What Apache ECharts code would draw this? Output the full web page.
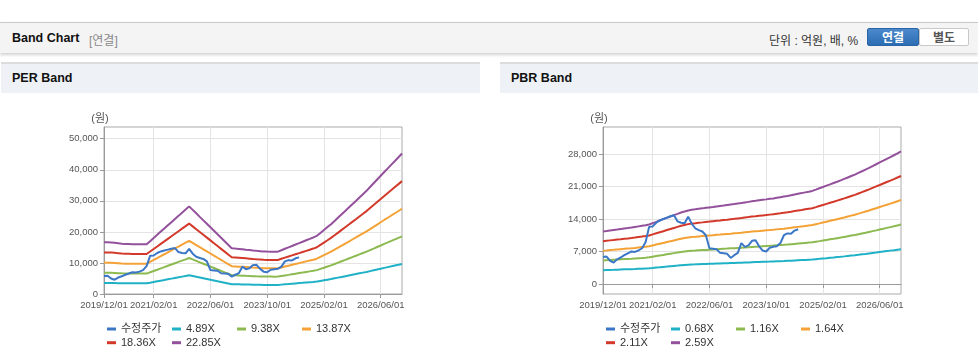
<!DOCTYPE html>
<html><head><meta charset="utf-8">
<script src="https://cdn.jsdelivr.net/npm/echarts@6/dist/echarts.min.js"></script>
<style>
body{margin:0;width:978px;height:361px;background:#fff;font-family:'Liberation Sans','Noto Sans CJK KR',sans-serif;overflow:hidden;position:relative}
#hdr{position:absolute;left:0;top:22px;width:978px;height:30px;background:#f4f4f4;border-top:1px solid #c9c9c9;box-shadow:0 2px 3px rgba(0,0,0,0.18)}
#hdr .t{position:absolute;left:12px;top:8px;font-size:12.5px;font-weight:bold;color:#111}
#hdr .s{position:absolute;left:89px;top:8px;font-size:12px;color:#8a8a8a}
#hdr .u{position:absolute;left:769px;top:8px;font-size:12px;color:#333}
.btn{position:absolute;top:5px;height:18px;line-height:18px;text-align:center;font-size:12px;font-weight:bold;box-sizing:border-box;border-radius:2px}
#b1{left:867px;width:52px;background:linear-gradient(#4a89cc,#2d6db3);color:#fff;border:1px solid #2a64a6}
#b2{left:919px;width:50px;background:#fff;color:#555;border:1px solid #c8c8c8}
.ph{position:absolute;top:62px;height:29px;background:#eef2f7;border-top:2px solid #dcdcdc}
.ph span{position:absolute;left:11px;top:7px;font-size:12.5px;font-weight:bold;color:#111}
.ch{position:absolute;top:92px;height:269px}
</style></head><body>
<div id="hdr"><span class="t">Band Chart</span><span class="s">[연결]</span><span class="u">단위 : 억원, 배, %</span>
<div class="btn" id="b1">연결</div><div class="btn" id="b2">별도</div></div>
<div class="ph" style="left:1px;width:479px"><span>PER Band</span></div>
<div class="ph" style="left:500px;width:478px"><span>PBR Band</span></div>
<div class="ch" id="per" style="left:0;width:480px"></div>
<div class="ch" id="pbr" style="left:500px;width:478px"></div>
<script>
const months = ['2019/12/01',
'2020/01/01','2020/02/01','2020/03/01','2020/04/01','2020/05/01','2020/06/01','2020/07/01','2020/08/01','2020/09/01','2020/10/01','2020/11/01','2020/12/01',
'2021/01/01','2021/02/01','2021/03/01','2021/04/01','2021/05/01','2021/06/01','2021/07/01','2021/08/01','2021/09/01','2021/10/01','2021/11/01','2021/12/01',
'2022/01/01','2022/02/01','2022/03/01','2022/04/01','2022/05/01','2022/06/01','2022/07/01','2022/08/01','2022/09/01','2022/10/01','2022/11/01','2022/12/01',
'2023/01/01','2023/02/01','2023/03/01','2023/04/01','2023/05/01','2023/06/01','2023/07/01','2023/08/01','2023/09/01','2023/10/01','2023/11/01','2023/12/01',
'2024/01/01','2024/02/01','2024/03/01','2024/04/01','2024/05/01','2024/06/01','2024/07/01','2024/08/01','2024/09/01','2024/10/01','2024/11/01','2024/12/01',
'2025/01/01','2025/02/01','2025/03/01','2025/04/01','2025/05/01','2025/06/01','2025/07/01','2025/08/01','2025/09/01','2025/10/01','2025/11/01','2025/12/01',
'2026/01/01','2026/02/01','2026/03/01','2026/04/01','2026/05/01','2026/06/01','2026/07/01','2026/08/01','2026/09/01','2026/10/01','2026/11/01','2026/12/01'];
const xTickLabels = ['2019/12/01','2021/02/01','2022/06/01','2023/10/01','2025/02/01','2026/06/01'];
const perYTicks = [0,10000,20000,30000,40000,50000];
const pbrYTicks = [0,7000,14000,21000,28000];
const priceName = '수정주가';
const perNames = ['4.89X','9.38X','13.87X','18.36X','22.85X'];
const pbrNames = ['0.68X','1.16X','1.64X','2.11X','2.59X'];

const price = [5800,5900,5000,4600,5300,5700,6200,6600,7000,6900,7200,7700,9000,12300,12400,13200,13700,14000,14300,14600,14800,13500,13200,13100,14500,13000,12000,11600,11300,10500,7700,7600,7500,6700,6600,6500,5600,6200,6700,8800,8000,8300,9300,9400,8100,7200,7000,7800,8000,8100,8800,10500,10900,10800,11500,11800];

const per489 = [3570,3560,3550,3530,3500,3470,3450,3440,3440,3430,3430,3430,3430,
3640,3860,4080,4300,4510,4730,4950,5170,5380,5600,5820,6040,
5800,5560,5320,5080,4840,4600,4360,4110,3870,3630,3390,3150,
3130,3110,3080,3060,3030,3000,2970,2950,2930,2920,2920,2910,2920,
3020,3120,3210,3310,3410,3510,3600,3700,3800,3900,4010,
4210,4410,4610,4810,5040,5270,5500,5730,5960,6190,6420,6650,
6880,7110,7370,7630,7890,8150,8410,8660,8910,9170,9420,9680];
const per938 = [6850,6830,6810,6770,6720,6660,6610,6600,6590,6590,6590,6580,6580,
6990,7410,7820,8250,8660,9080,9490,9920,10330,10750,11160,11580,
11130,10670,10200,9740,9280,8820,8360,7890,7430,6970,6510,6050,
6000,5960,5910,5860,5820,5750,5700,5670,5630,5610,5600,5590,5600,
5790,5980,6160,6350,6540,6730,6910,7100,7290,7480,7690,
8080,8460,8850,9230,9660,10100,10540,10980,11430,11870,12310,12760,
13200,13640,14140,14630,15130,15630,16120,16610,17100,17590,18080,18570];
const per1387 = [10130,10100,10070,10010,9930,9850,9780,9760,9750,9740,9740,9720,9720,
10330,10960,11570,12190,12800,13430,14040,14660,15270,15900,16510,17130,
16450,15770,15080,14400,13720,13040,12360,11670,10990,10310,9630,8950,
8880,8810,8740,8670,8600,8500,8430,8380,8320,8290,8280,8270,8280,
8560,8840,9110,9390,9670,9950,10220,10500,10780,11050,11370,
11940,12510,13080,13650,14290,14940,15590,16240,16890,17550,18200,18860,
19520,20170,20900,21640,22370,23110,23840,24560,25290,26010,26730,27460];
const per1836 = [13400,13370,13330,13260,13150,13040,12940,12930,12910,12890,12890,12870,12870,
13680,14500,15310,16140,16950,17770,18580,19410,20210,21040,21850,22680,
21780,20880,19960,19060,18160,17260,16360,15440,14540,13640,12740,11840,
11750,11660,11570,11480,11380,11260,11160,11090,11020,10980,10960,10940,10960,
11330,11700,12060,12430,12800,13160,13530,13900,14270,14630,15060,
15810,16560,17310,18070,18910,19770,20640,21500,22360,23230,24090,24970,
25830,26700,27670,28640,29620,30590,31560,32520,33470,34430,35380,36350];
const per2285 = [16680,16640,16590,16500,16360,16220,16110,16090,16060,16040,16040,16020,16020,
17020,18050,19060,20090,21090,22120,23120,24150,25160,26190,27190,28220,
27100,25980,24840,23720,22600,21480,20360,19220,18100,16980,15860,14740,
14620,14510,14400,14280,14170,14010,13890,13800,13710,13660,13640,13620,13640,
14100,14560,15010,15470,15930,16380,16840,17300,17750,18210,18740,
19670,20610,21550,22480,23540,24610,25680,26760,27830,28910,29980,31080,
32150,33220,34440,35650,36860,38070,39280,40470,41660,42840,44030,45240];

const pbr068 = [2970,3000,3030,3050,3080,3110,3140,3160,3190,3220,3260,3290,3330,
3370,3440,3520,3590,3670,3740,3820,3890,3960,4040,4100,4150,
4200,4220,4250,4280,4300,4330,4360,4390,4410,4440,4470,4500,
4520,4550,4580,4610,4640,4680,4710,4730,4760,4790,4810,4840,4880,
4910,4940,4980,5020,5060,5100,5140,5180,5220,5260,5340,
5410,5490,5560,5640,5710,5790,5860,5940,6030,6110,6190,6280,
6380,6470,6570,6670,6770,6880,6980,7080,7180,7280,7390,7500];
const pbr116 = [5070,5120,5160,5210,5260,5300,5350,5390,5440,5500,5560,5610,5670,
5740,5870,6000,6130,6250,6380,6510,6640,6760,6890,7000,7090,
7160,7200,7250,7300,7340,7390,7440,7480,7530,7580,7620,7670,
7710,7760,7810,7870,7920,7980,8030,8070,8120,8170,8210,8260,8320,
8380,8430,8490,8560,8630,8700,8770,8840,8910,8980,9110,
9230,9360,9490,9620,9740,9870,10000,10140,10280,10420,10560,10720,
10880,11040,11210,11380,11550,11730,11900,12080,12250,12420,12610,12800];
const pbr164 = [7170,7230,7300,7360,7430,7500,7560,7630,7690,7770,7860,7940,8020,
8120,8300,8480,8660,8840,9020,9200,9380,9560,9740,9890,10020,
10120,10180,10250,10320,10380,10450,10510,10580,10640,10710,10780,10840,
10910,10970,11040,11120,11200,11280,11350,11410,11480,11550,11610,11680,11760,
11840,11920,12010,12100,12200,12300,12400,12500,12600,12690,12870,
13050,13240,13420,13600,13780,13960,14140,14330,14530,14730,14920,15150,
15380,15610,15840,16090,16330,16580,16830,17070,17320,17560,17830,18090];
const pbr211 = [9220,9310,9390,9470,9560,9640,9730,9810,9900,10000,10110,10210,10320,
10450,10680,10910,11140,11370,11610,11840,12070,12300,12530,12720,12890,
13020,13100,13190,13270,13360,13440,13530,13610,13690,13780,13860,13950,
14030,14120,14200,14310,14410,14520,14600,14690,14770,14850,14940,15020,15130,
15230,15340,15450,15570,15700,15830,15950,16080,16210,16330,16560,
16800,17030,17260,17490,17720,17960,18190,18440,18700,18950,19200,19500,
19790,20090,20380,20700,21020,21330,21650,21970,22280,22600,22940,23270];
const pbr259 = [11320,11420,11530,11630,11730,11840,11940,12040,12150,12280,12410,12540,12670,
12820,13110,13390,13680,13960,14250,14530,14820,15100,15390,15620,15830,
15980,16080,16190,16290,16400,16500,16600,16710,16810,16910,17020,17120,
17220,17330,17430,17560,17690,17820,17920,18030,18130,18230,18340,18440,18570,
18700,18830,18960,19110,19270,19430,19580,19740,19890,20050,20330,
20620,20900,21190,21470,21760,22040,22330,22640,22950,23260,23570,23930,
24290,24660,25020,25410,25800,26190,26570,26960,27350,27740,28150,28570];

const colors = ['#3b77c6','#1fb1c6','#8cba51','#f4a236','#d2392b','#93519b'];
const labelFont = "'Liberation Sans', Arial, sans-serif";
const legendFont = "'Liberation Sans', 'Noto Sans CJK KR', sans-serif";

function showIdx(idx){ return xTickLabels.indexOf(months[idx]) >= 0; }

function makeOption(bandNames, bands, yMin, yMax, yTicks){
  const series = [];
  bandNames.forEach((n,k)=>{
    series.push({name:n,type:'line',data:bands[k],showSymbol:false,symbol:'none',
      lineStyle:{width:2,color:colors[k+1]},itemStyle:{color:colors[k+1]},z:2});
  });
  series.push({name:priceName,type:'line',data:price,showSymbol:false,symbol:'none',
    lineStyle:{width:2,color:colors[0]},itemStyle:{color:colors[0]},z:3});
  const legendCommon = {orient:'horizontal',icon:'rect',itemWidth:9,itemHeight:3,itemGap:5,padding:0,
    textStyle:{fontSize:11,color:'#333',fontFamily:legendFont,width:46,lineHeight:13}};
  return {
    animation:false,
    color:colors,
    grid:{left:104,top:35,width:298,height:167,show:true,borderColor:'#aaaaaa',borderWidth:1,containLabel:false},
    legend:[
      Object.assign({left:107,top:230.5,data:[priceName,bandNames[0],bandNames[1],bandNames[2]]},legendCommon),
      Object.assign({left:107,top:244.2,data:[bandNames[3],bandNames[4]]},legendCommon)
    ],
    xAxis:{type:'category',data:months,boundaryGap:false,
      axisLine:{lineStyle:{color:'#9a9a9a'}},
      axisTick:{show:true,length:4,interval:showIdx,lineStyle:{color:'#9a9a9a'}},
      axisLabel:{interval:showIdx,fontSize:9.5,color:'#555',fontFamily:labelFont,margin:6},
      splitLine:{show:true,interval:showIdx,lineStyle:{color:'#e4e4e4'}}},
    yAxis:{type:'value',min:yMin,max:yMax,
      name:'(원)',nameLocation:'end',nameGap:8,
      nameTextStyle:{fontSize:11,color:'#555',fontFamily:legendFont,align:'center',verticalAlign:'middle',padding:[0,8,0,0]},
      axisLine:{show:true,lineStyle:{color:'#9a9a9a'}},
      axisTick:{show:true,length:4,customValues:yTicks,lineStyle:{color:'#9a9a9a'}},
      axisLabel:{customValues:yTicks,fontSize:9.5,color:'#555',fontFamily:labelFont,margin:6,
        formatter:v=>v.toLocaleString('en-US')},
      splitLine:{show:true,lineStyle:{color:'#e4e4e4'}}},
    series:series
  };
}
const perChart = echarts.init(document.getElementById('per'),null,{renderer:'canvas'});
perChart.setOption(makeOption(perNames,[per489,per938,per1387,per1836,per2285],0,53780,perYTicks));
const pbrChart = echarts.init(document.getElementById('pbr'),null,{renderer:'canvas'});
const pbrOpt = makeOption(pbrNames,[pbr068,pbr116,pbr164,pbr211,pbr259],-2170,33830,pbrYTicks);
pbrOpt.grid.left = 103;
pbrOpt.legend[0].left = 106; pbrOpt.legend[1].left = 106;
pbrChart.setOption(pbrOpt);
</script>
</body></html>
